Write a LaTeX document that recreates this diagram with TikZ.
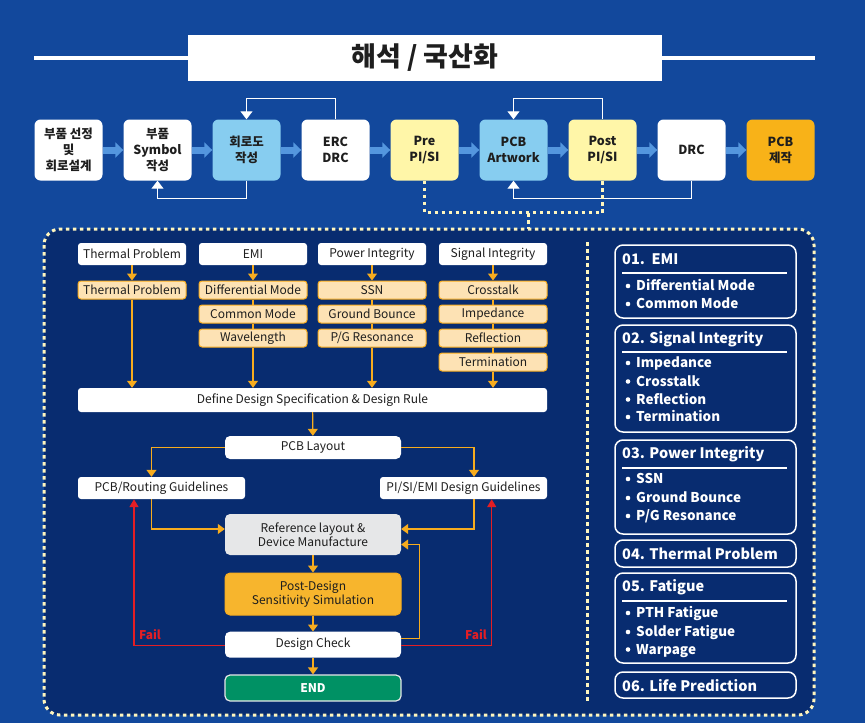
\documentclass[tikz,border=0pt]{standalone}
\usepackage{fontspec}
\setmainfont{Noto Sans CJK KR}
\newfontfamily\kr{Noto Sans CJK KR}
\usetikzlibrary{arrows.meta}

\definecolor{bgblue}{RGB}{18,72,156}
\definecolor{navy}{RGB}{8,44,112}
\definecolor{dotyel}{RGB}{255,246,190}
\definecolor{skyblue}{RGB}{135,205,240}
\definecolor{paleyel}{RGB}{255,246,168}
\definecolor{pcborange}{RGB}{248,178,24}
\definecolor{arrblue}{RGB}{84,150,222}
\definecolor{lineorange}{RGB}{247,172,30}
\definecolor{itemfill}{RGB}{253,226,180}
\definecolor{simorange}{RGB}{247,181,45}
\definecolor{refgray}{RGB}{230,231,232}
\definecolor{endgreen}{RGB}{0,145,100}
\definecolor{failred}{RGB}{228,30,36}
\definecolor{txt}{RGB}{30,30,30}

\begin{document}
\begin{tikzpicture}[x=1pt, y=-1pt,
	flow/.style={rounded corners=6pt, minimum width=68pt, minimum height=61pt, inner sep=0pt,
		align=center, text=txt, font=\kr\bfseries\fontsize{12.5}{16}\selectfont},
	blockarr/.style={arrblue, line width=7pt, -{Triangle[length=8pt,width=15pt]}},
	fb/.style={white, line width=1pt, -{Triangle[length=8pt,width=12pt]}},
	ydot/.style={dotyel, line width=3pt, dash pattern=on 3.5pt off 3.5pt},
	hdr/.style={fill=white, rounded corners=3pt, minimum width=108pt, minimum height=22pt,
		inner sep=0pt, align=center, text=txt, font=\fontsize{12}{13.5}\selectfont},
	item/.style={hdr, fill=itemfill, draw=lineorange, line width=1pt, minimum height=18pt},
	midbox/.style={hdr, minimum width=176pt, rounded corners=5pt},
	oline/.style={lineorange, line width=1.2pt},
	oarr/.style={oline, -{Triangle[length=7pt,width=10pt]}},
	farr/.style={failred, line width=1.5pt, -{Triangle[length=8pt,width=9pt]}},
	panel/.style={draw=white, line width=1.5pt, rounded corners=8pt},
	ptitle/.style={anchor=base west, text=white, inner sep=0pt, font=\bfseries\fontsize{14.5}{16}\selectfont},
	pitem/.style={anchor=base west, text=white, inner sep=0pt, font=\bfseries\fontsize{13.5}{15}\selectfont}]

	\fill[bgblue] (0,0) rectangle (865,723);
	\useasboundingbox (0,0) rectangle (865,723);

	% title
	\node[fill=white, minimum width=474pt, minimum height=46pt, inner sep=0pt, text=txt,
		font=\kr\bfseries\fontsize{27}{30}\selectfont] (title) at (425,58) {해석 / 국산화};
	\draw[white, line width=4.5pt] (34,58) -- (title.west);
	\draw[white, line width=4.5pt] (title.east) -- (815,58);

	% process row
	\node[flow, fill=white] (parts) at (68.5,150) {부품 선정\\및\\회로설계};
	\node[flow, fill=white] (symbol) at (157.5,150) {부품\\Symbol\\작성};
	\node[flow, fill=skyblue] (schem) at (246.5,150) {회로도\\작성};
	\node[flow, fill=white] (erc) at (335.5,150) {ERC\\DRC};
	\node[flow, fill=paleyel] (prepi) at (424.5,150) {Pre\\PI/SI};
	\node[flow, fill=skyblue] (artwork) at (513.5,150) {PCB\\Artwork};
	\node[flow, fill=paleyel] (postpi) at (602.5,150) {Post\\PI/SI};
	\node[flow, fill=white] (drc) at (691.5,150) {DRC};
	\node[flow, fill=pcborange] (fab) at (780.5,150) {PCB\\제작};

	\foreach \a/\b in {parts/symbol, symbol/schem, schem/erc, erc/prepi, prepi/artwork,
		artwork/postpi, postpi/drc, drc/fab}
		\draw[blockarr] (\a.east) -- (\b.west);

	\draw[fb] (erc.north) -- ++(0,-21) -| (schem.north);
	\draw[fb] (schem.south) -- ++(0,18) -| (symbol.south);
	\draw[fb] (postpi.north) -- ++(0,-21) -| (artwork.north);
	\draw[fb] (drc.south) -- ++(0,18) -| (artwork.south);

	% analysis frame
	\draw[ydot, fill=navy, rounded corners=16pt] (44,229) rectangle (814,715);
	\draw[ydot] (prepi.south) -- ++(0,32) -| (postpi.south);
	\coordinate (drop) at (528,213);
	\draw[ydot] (drop) -- ++(0,16);
	\draw[ydot] (587,242) -- (587,703);

	% left: problems
	\node[hdr] (hthermal) at (132,254) {Thermal Problem};
	\node[hdr] (hemi) at (253,254) {EMI};
	\node[hdr] (hpi) at (372,254) {Power Integrity};
	\node[hdr] (hsi) at (493,254) {Signal Integrity};

	\node[item] (ithermal) at (132,290) {Thermal Problem};
	\node[item] (iemia) at (253,290) {Differential Mode};
	\node[item] (iemib) at (253,314) {Common Mode};
	\node[item] (iemic) at (253,338) {Wavelength};
	\node[item] (ipia) at (372,290) {SSN};
	\node[item] (ipib) at (372,314) {Ground Bounce};
	\node[item] (ipic) at (372,338) {P/G Resonance};
	\node[item] (isia) at (493,290) {Crosstalk};
	\node[item] (isib) at (493,314) {Impedance};
	\node[item] (isic) at (493,338) {Reflection};
	\node[item] (isid) at (493,362) {Termination};

	\draw[oarr] (hthermal) -- (ithermal);
	\draw[oarr] (hemi) -- (iemia);
	\draw[oarr] (hpi) -- (ipia);
	\draw[oarr] (hsi) -- (isia);
	\draw[oline] (iemia) -- (iemib) (iemib) -- (iemic);
	\draw[oline] (ipia) -- (ipib) (ipib) -- (ipic);
	\draw[oline] (isia) -- (isib) (isib) -- (isic) (isic) -- (isid);

	\node[hdr, minimum width=469pt, minimum height=24pt] (define) at (312.5,400)
		{Define Design Specification \& Design Rule};
	\draw[oarr] (ithermal.south) -- (ithermal.south |- define.north);
	\draw[oarr] (iemic.south) -- (iemic.south |- define.north);
	\draw[oarr] (ipic.south) -- (ipic.south |- define.north);
	\draw[oarr] (isid.south) -- (isid.south |- define.north);

	% left: design flow
	\node[midbox, minimum height=23pt] (layout) at (313,447.5) {PCB Layout};
	\node[hdr, minimum width=167pt] (routing) at (161.5,488) {PCB/Routing Guidelines};
	\node[hdr, minimum width=167pt] (pisi) at (463.5,488) {PI/SI/EMI Design Guidelines};
	\node[midbox, fill=refgray, minimum height=41pt] (ref) at (313,534.5)
		{Reference layout \&\\Device Manufacture};
	\node[midbox, fill=simorange, draw=lineorange, line width=1pt, minimum height=42pt] (sim) at (313,594)
		{Post-Design\\Sensitivity Simulation};
	\node[midbox, minimum height=26pt] (check) at (313,644.7) {Design Check};
	\node[midbox, fill=endgreen, draw=refgray, line width=1.2pt, minimum height=26pt, text=white,
		font=\bfseries\fontsize{12}{13.5}\selectfont] (end) at (313,688) {END};

	\draw[oarr] (define) -- (layout);
	\draw[oarr] (layout.west) -| ([xshift=-10pt]routing.north);
	\draw[oarr] (layout.east) -| ([xshift=10.5pt]pisi.north);
	\draw[oarr] ([xshift=-10pt]routing.south) |- ([yshift=5.5pt]ref.west);
	\draw[oarr] ([xshift=10.5pt]pisi.south) |- ([yshift=5.5pt]ref.east);
	\draw[oarr] (ref) -- (sim);
	\draw[oarr] (sim) -- (check);
	\draw[oarr] (check) -- (end);
	\draw[oarr] ([yshift=6.5pt]check.east) -- ++(18,0) |- ([yshift=-10pt]ref.east);

	\draw[farr] ([yshift=-1pt]check.west) -| ([xshift=-27.5pt]routing.south);
	\draw[farr] ([yshift=-1pt]check.east) -| ([xshift=28.2pt]pisi.south);
	\node[text=failred, font=\bfseries\fontsize{12}{13}\selectfont] (faill) at (150,635) {Fail};
	\node[text=failred, font=\bfseries\fontsize{12}{13}\selectfont] (failr) at (476,635) {Fail};

	% right: check list
	\draw[panel] (615,245) rectangle (796,318);
	\node[ptitle] (p1) at (622,264) {01.\ \ EMI};
	\draw[white, line width=1.5pt] (622,273) -- (787,273);
	\foreach \y/\t/\n in {286/Differential Mode/p1a, 304/Common Mode/p1b}{
		\fill[white] (628,\y) circle (2.3pt);
		\node[pitem] (\n) at (636,\y+4.5) {\t};}

	\draw[panel] (615,325) rectangle (796,432);
	\node[ptitle] (p2) at (622,343) {02. Signal Integrity};
	\draw[white, line width=1.5pt] (622,352) -- (787,352);
	\foreach \y/\t/\n in {363/Impedance/p2a, 381.5/Crosstalk/p2b, 399.5/Reflection/p2c, 417/Termination/p2d}{
		\fill[white] (628,\y) circle (2.3pt);
		\node[pitem] (\n) at (636,\y+4.5) {\t};}

	\draw[panel] (615,440) rectangle (796,534);
	\node[ptitle] (p3) at (622,458) {03. Power Integrity};
	\draw[white, line width=1.5pt] (622,468) -- (787,468);
	\foreach \y/\t/\n in {479/SSN/p3a, 498/Ground Bounce/p3b, 516/{P/G Resonance}/p3c}{
		\fill[white] (628,\y) circle (2.3pt);
		\node[pitem] (\n) at (636,\y+4.5) {\t};}

	\draw[panel] (615,540) rectangle (796,567);
	\node[ptitle] (p4) at (622,559) {04. Thermal Problem};

	\draw[panel] (615,573) rectangle (796,663);
	\node[ptitle] (p5) at (622,591) {05. Fatigue};
	\draw[white, line width=1.5pt] (622,601) -- (787,601);
	\foreach \y/\t/\n in {613/PTH Fatigue/p5a, 632/Solder Fatigue/p5b, 649.5/Warpage/p5c}{
		\fill[white] (628,\y) circle (2.3pt);
		\node[pitem] (\n) at (636,\y+4.5) {\t};}

	\draw[panel] (615,672) rectangle (796,698);
	\node[ptitle] (p6) at (622,691) {06. Life Prediction};
\end{tikzpicture}
\end{document}
